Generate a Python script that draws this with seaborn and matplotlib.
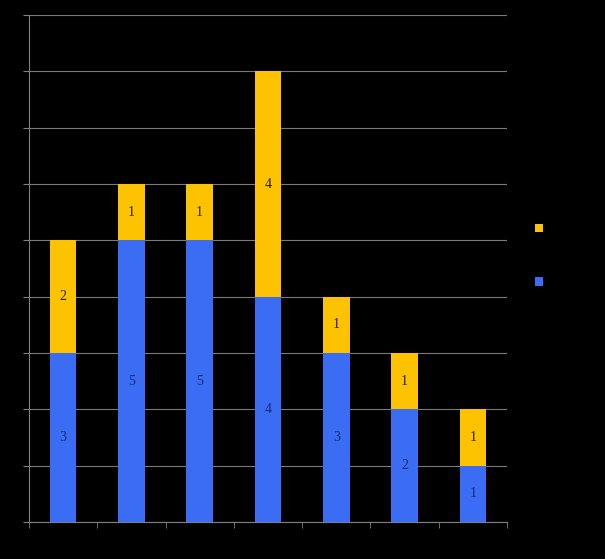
import numpy as np
import pandas as pd
import matplotlib
matplotlib.use("Agg")
import matplotlib.pyplot as plt
import seaborn as sns
from matplotlib.patches import Patch

categories = ["Category 1", "Category 2", "Category 3", "Category 4",
              "Category 5", "Category 6", "Category 7"]
series1 = [3, 5, 5, 4, 3, 2, 1]
series2 = [2, 1, 1, 4, 1, 1, 1]
series_names = ["Series 1", "Series 2"]

blue = "#3a6cf4"
yellow = "#fdc300"

sns.set_style("dark")
plt.rcParams["font.family"] = ["Liberation Serif", "DejaVu Serif"]

df = pd.DataFrame({"cat": categories, "s1": series1, "s2": series2})

fig = plt.figure(figsize=(6.05, 5.59), dpi=100, facecolor="black")
ax = fig.add_axes([29 / 605, 37 / 559, 478 / 605, 507 / 559])
ax.set_facecolor("black")

sns.barplot(data=df, x="cat", y="s1", color=blue, width=0.39,
            saturation=1, ax=ax, zorder=3, linewidth=0)
sns.barplot(data=df, x="cat", y="s2", bottom=df["s1"], color=yellow,
            width=0.39, saturation=1, ax=ax, zorder=3, linewidth=0)

for i, (a, b) in enumerate(zip(series1, series2)):
    ax.text(i, a / 2, str(a), ha="center", va="center", fontsize=10,
            color="#1a2a6a", zorder=4)
    ax.text(i, a + b / 2, str(b), ha="center", va="center", fontsize=10,
            color="#2a1a00", zorder=4)

ax.set_xlim(-0.5, 6.5)
ax.set_ylim(0, 9)
ax.set_yticks(range(0, 10))
ax.set_yticklabels([str(v) for v in range(0, 10)], color="black")
ax.set_xticks(range(7))
ax.set_xticklabels(categories, color="black")
ax.set_xticks(np.arange(-0.5, 7, 1), minor=True)
ax.tick_params(axis="x", which="major", length=0)
ax.tick_params(axis="x", which="minor", length=4, color="#808080",
               direction="out", bottom=True)
ax.tick_params(axis="y", length=4, color="#808080", direction="out", left=True)
ax.set_xlabel("")
ax.set_ylabel("")

ax.grid(False)
ax.yaxis.grid(True, color="#7a7a7a", linewidth=0.8, zorder=0)
for side in ["top", "right"]:
    ax.spines[side].set_visible(False)
for side in ["left", "bottom"]:
    ax.spines[side].set_visible(True)
    ax.spines[side].set_color("#808080")
    ax.spines[side].set_linewidth(0.8)

handles = [Patch(facecolor=yellow, edgecolor="none"),
           Patch(facecolor=blue, edgecolor="none")]
leg = fig.legend(handles, [series_names[1], series_names[0]],
                 loc="center left", bbox_to_anchor=(522 / 605, 1 - 256 / 559),
                 frameon=False, handlelength=0.6, handleheight=0.6,
                 labelspacing=2.9, fontsize=10)
for t in leg.get_texts():
    t.set_color("black")

fig.savefig("out.png", dpi=100, facecolor="black")
